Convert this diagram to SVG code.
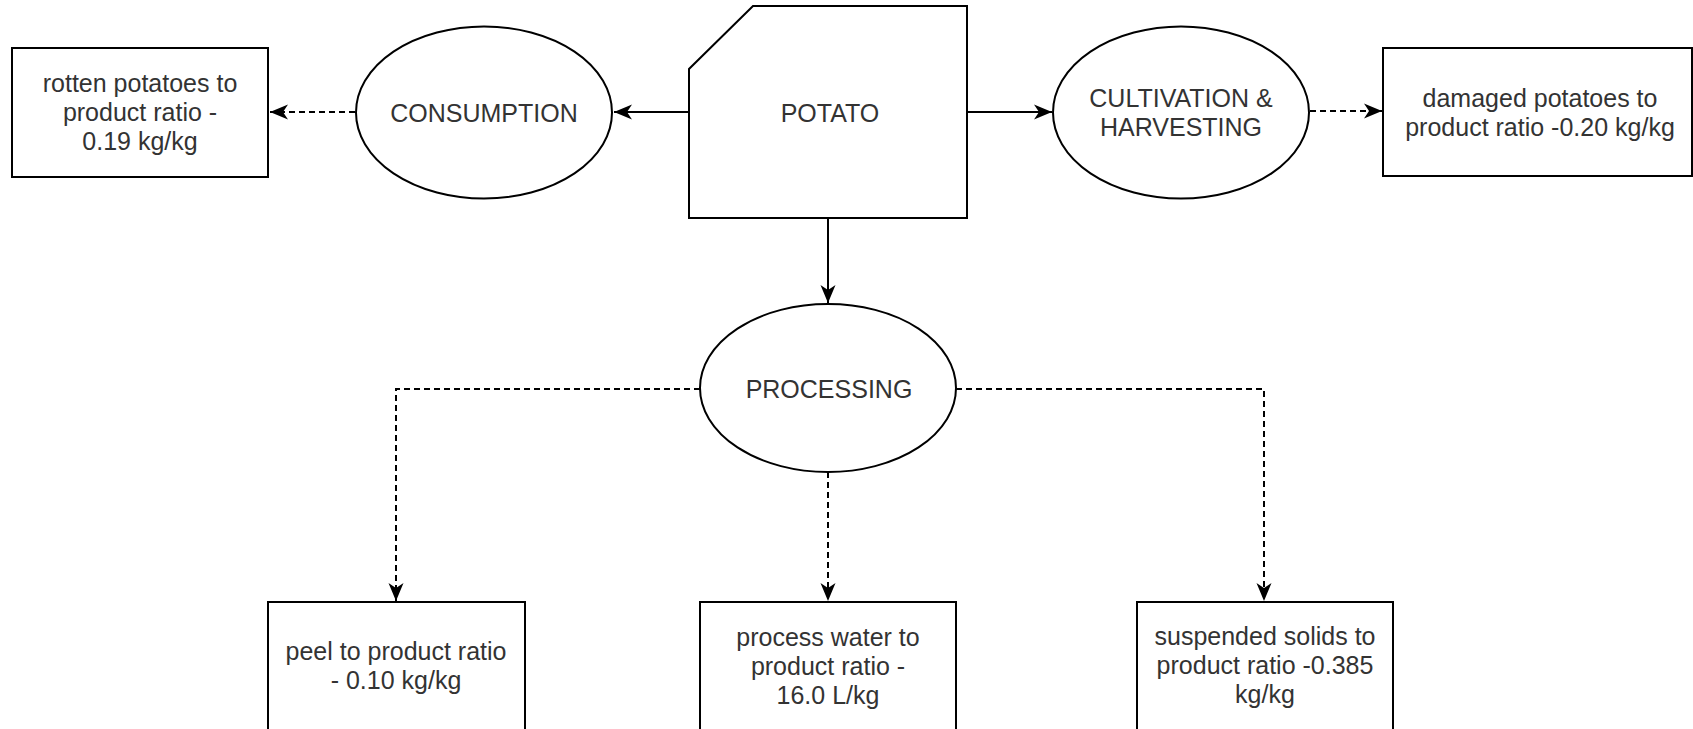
<svg xmlns="http://www.w3.org/2000/svg" width="1693" height="729" viewBox="0 0 1693 729">
<style>
.shape{fill:#fff;stroke:#000;stroke-width:2}
.t{font-family:"Liberation Sans",Arial,sans-serif;font-size:25px;fill:#333;text-anchor:middle}
.c{fill:none;stroke:#000;stroke-width:2}
.d{stroke-dasharray:6 4}
</style>
<defs>
<marker id="arr" markerWidth="20" markerHeight="17" refX="18" refY="8" orient="auto" markerUnits="userSpaceOnUse">
<path d="M0,0.5 L18,8 L0,15.5 L5,8 Z" fill="#000"/>
</marker>
</defs>
<rect width="1693" height="729" fill="#fff"/>
<g id="connectors">
<line class="c" x1="689" y1="112" x2="614" y2="112" marker-end="url(#arr)"/>
<line class="c d" x1="355" y1="112" x2="270" y2="112" marker-end="url(#arr)"/>
<line class="c" x1="967" y1="112" x2="1052" y2="112" marker-end="url(#arr)"/>
<line class="c d" x1="1310" y1="111" x2="1382" y2="111" marker-end="url(#arr)"/>
<line class="c" x1="828" y1="218" x2="828" y2="303" marker-end="url(#arr)"/>
<polyline class="c d" points="700,389 396,389 396,601" marker-end="url(#arr)"/>
<line class="c d" x1="828" y1="472" x2="828" y2="601" marker-end="url(#arr)"/>
<polyline class="c d" points="956,389 1264,389 1264,601" marker-end="url(#arr)"/>
</g>
<g id="potato">
<polygon class="shape" points="753,6 967,6 967,218 689,218 689,69"/>
<text class="t" x="830" y="122">POTATO</text>
</g>
<g id="consumption">
<ellipse class="shape" cx="484" cy="112.5" rx="128" ry="86"/>
<text class="t" x="484" y="122">CONSUMPTION</text>
</g>
<g id="rotten">
<rect class="shape" x="12" y="48" width="256" height="129"/>
<text class="t" x="140" y="92">rotten potatoes to</text>
<text class="t" x="140" y="121">product ratio -</text>
<text class="t" x="140" y="150">0.19 kg/kg</text>
</g>
<g id="cultivation">
<ellipse class="shape" cx="1181" cy="112.5" rx="128" ry="86"/>
<text class="t" x="1181" y="107">CULTIVATION &amp;</text>
<text class="t" x="1181" y="136">HARVESTING</text>
</g>
<g id="damaged">
<rect class="shape" x="1383" y="48" width="309" height="128"/>
<text class="t" x="1540" y="107">damaged potatoes to</text>
<text class="t" x="1540" y="136">product ratio -0.20 kg/kg</text>
</g>
<g id="processing">
<ellipse class="shape" cx="828" cy="388" rx="128" ry="84"/>
<text class="t" x="829" y="398">PROCESSING</text>
</g>
<g id="peel">
<rect class="shape" x="268" y="602" width="257" height="129"/>
<text class="t" x="396" y="660">peel to product ratio</text>
<text class="t" x="396" y="689">- 0.10 kg/kg</text>
</g>
<g id="water">
<rect class="shape" x="700" y="602" width="256" height="129"/>
<text class="t" x="828" y="646">process water to</text>
<text class="t" x="828" y="675">product ratio -</text>
<text class="t" x="828" y="704">16.0 L/kg</text>
</g>
<g id="solids">
<rect class="shape" x="1137" y="602" width="256" height="129"/>
<text class="t" x="1265" y="645">suspended solids to</text>
<text class="t" x="1265" y="674">product ratio -0.385</text>
<text class="t" x="1265" y="703">kg/kg</text>
</g>
</svg>
